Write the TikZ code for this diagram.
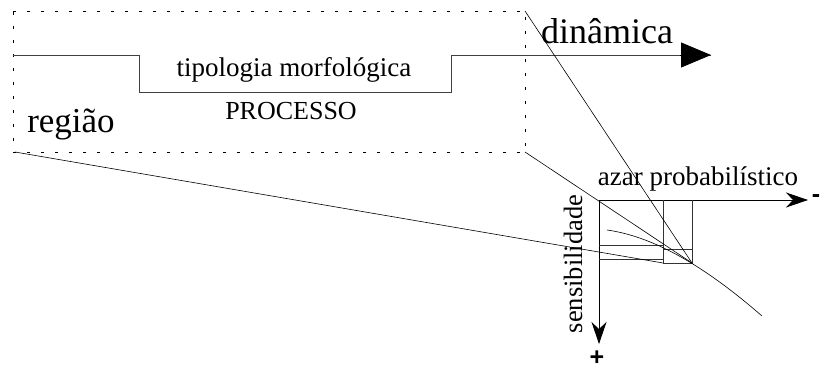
\documentclass[tikz,border=0pt]{standalone}
\usepackage{fontspec}
\setmainfont{Liberation Serif}
\setsansfont{Liberation Sans}
\usetikzlibrary{arrows.meta}

\begin{document}
\begin{tikzpicture}[x=1pt,y=-1pt,line width=0.8pt]
\useasboundingbox (0,0) rectangle (821,369);

% corners of the dotted frame and other fixed points
\coordinate (TL) at (13,11);
\coordinate (TR) at (525,11);
\coordinate (BL) at (13,152);
\coordinate (BR) at (525,152);
\coordinate (S0) at (13,55);
\coordinate (S1) at (139,55);
\coordinate (S2) at (139,92);
\coordinate (S3) at (451,92);
\coordinate (S4) at (451,55);
\coordinate (S5) at (711,55);
\coordinate (O) at (599,200);
\coordinate (X) at (808,200);
\coordinate (Y) at (599,344);
\coordinate (P) at (663,200);
\coordinate (Q) at (692,200);
\coordinate (R1) at (663,249);
\coordinate (R2) at (692,263);
\coordinate (R3) at (663,263);
\coordinate (R4) at (692,249);

\begin{scope}[every node/.style={inner sep=0pt}]
    \node[anchor=base,font=\fontsize{27}{27}\selectfont] (tipo) at (294,76) {tipologia morfológica};
    \node[anchor=base,font=\fontsize{26}{26}\selectfont] (proc) at (291,119) {PROCESSO};
    \node[anchor=base,font=\fontsize{35}{35}\selectfont] (reg) at (71,132) {região};
    \node[anchor=base,font=\fontsize{36}{36}\selectfont] (din) at (607,44) {dinâmica};
    \node[anchor=base,font=\fontsize{27}{27}\selectfont] (azar) at (698,185) {azar probabilístico};
    \node[anchor=base,rotate=90,font=\fontsize{26.5}{26.5}\selectfont] (sens) at (582,264) {sensibilidade};
    \node[font=\sffamily\bfseries\fontsize{25}{25}\selectfont] (mais) at (597,358) {+};
    \node[font=\sffamily\bfseries\fontsize{25}{25}\selectfont] (menos) at (816,199) {-};
\end{scope}

% dotted frame
\draw[line width=0.6pt,dash pattern=on 3pt off 11pt] (TL) -- (TR) -- (BR) -- (BL) -- cycle;

% process line with the step
\draw[black!75] (S0) -- (S1) -- (S2) -- (S3) -- (S4) -- (S5);
\draw[-{Triangle[length=30pt,width=25pt]}] (S4) ++(229,0) -- (S5);

% axes
\begin{scope}[every edge/.style={draw=black,line width=0.8pt}]
    \path [-{Stealth[length=22pt,width=15pt,inset=7pt]}] (O) edge (X);
    \path [-{Stealth[length=22pt,width=15pt,inset=7pt]}] (O) edge (Y);
\end{scope}

% boxes under the axis
\begin{scope}[black!80,line width=0.7pt]
    \draw (P) -- (R3);
    \draw (Q) -- (R2);
    \draw (R1) rectangle (R2);
    \draw (599,245) -- (663,245);
    \draw (599,259) -- (663,259);
\end{scope}

% projection lines
\draw[line width=0.6pt] (TR) -- (R2);
\draw[line width=0.6pt] (BR) -- (R2);
\draw[line width=0.6pt] (15,152) -- (R3);
\draw[line width=0.6pt] (607,230) .. controls (650,236) and (700,262) .. (762,316);
\end{tikzpicture}
\end{document}
